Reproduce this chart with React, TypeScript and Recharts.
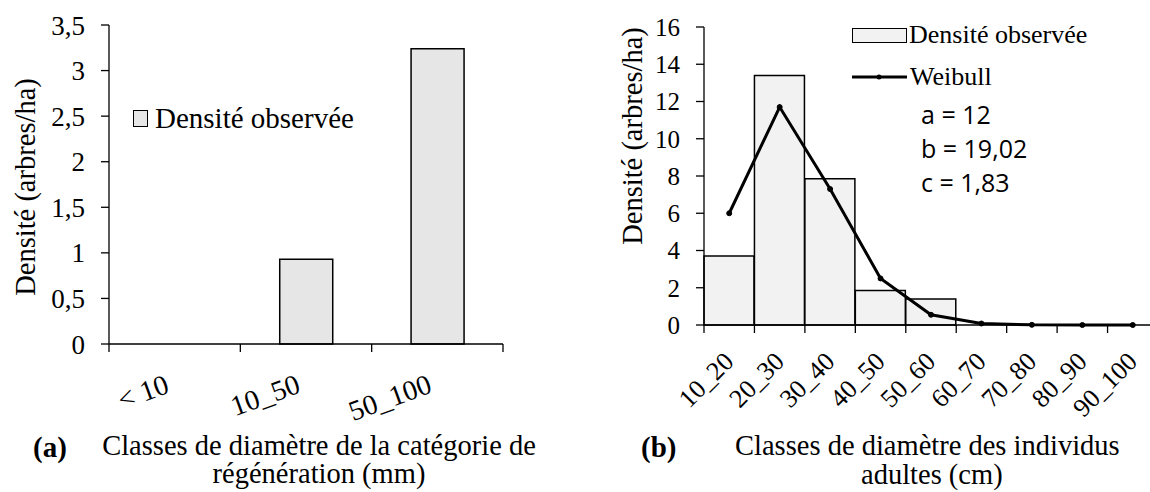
import { BarChart, ComposedChart, Bar, Line, XAxis, YAxis, Legend } from "recharts";

const SERIF = '"Liberation Serif", "Times New Roman", serif';
const SANS = '"Open Sans", "Liberation Sans", sans-serif';
const INK = "#000";

// (a) catégorie de régénération (mm)
const regenClasses = ["< 10", "10_50", "50_100"];
const regenDensity = [0, 0.93, 3.24];
const regenTicks = [0, 0.5, 1, 1.5, 2, 2.5, 3, 3.5];

// (b) individus adultes (cm)
const adultClasses = ["10_20", "20_30", "30_40", "40_50", "50_60", "60_70", "70_80", "80_90", "90_100"];
const adultDensity = [3.7, 13.4, 7.85, 1.85, 1.4, 0, 0, 0, 0];
const weibullFit = [6.0, 11.7, 7.3, 2.5, 0.55, 0.08, 0.01, 0, 0];
const adultTicks = [0, 2, 4, 6, 8, 10, 12, 14, 16];
const weibullParams = ["a = 12", "b = 19,02", "c = 1,83"];

const regenData = regenClasses.map((cls, i) => ({ cls, density: regenDensity[i] }));
const adultData = adultClasses.map((cls, i) => ({ cls, density: adultDensity[i], weibull: weibullFit[i] }));

const comma = (v: number) => String(v).replace(".", ",");

// category labels rotated, with tick marks on the class boundaries
function classTick(bandW: number, count: number, angle: number, dx: number, dy: number, fontSize: number) {
  return (props: any) => {
    const { x, y, payload, index } = props;
    const half = bandW / 2;
    return (
      <g>
        <line x1={x - half} x2={x - half} y1={y} y2={y + 8} stroke={INK} strokeWidth={1.3} />
        {index === count - 1 && (
          <line x1={x + half} x2={x + half} y1={y} y2={y + 8} stroke={INK} strokeWidth={1.3} />
        )}
        <text
          transform={`translate(${x + dx},${y + dy}) rotate(${angle})`}
          textAnchor="end"
          fontFamily={SERIF}
          fontSize={fontSize}
          fill={INK}
        >
          {payload.value}
        </text>
      </g>
    );
  };
}

function RegenLegend() {
  return (
    <div style={{ display: "flex", alignItems: "center", fontFamily: SERIF, fontSize: 29, lineHeight: "30px" }}>
      <span style={{ width: 15, height: 17, background: "#e6e6e6", border: "1.5px solid #000", boxSizing: "border-box" }} />
      <span style={{ marginLeft: 7 }}>Densité observée</span>
    </div>
  );
}

function AdultLegend() {
  return (
    <div style={{ fontFamily: SERIF, fontSize: 26, lineHeight: "30px" }}>
      <div style={{ display: "flex", alignItems: "center" }}>
        <span style={{ width: 55, height: 15, background: "#f2f2f2", border: "1.5px solid #000", boxSizing: "border-box" }} />
        <span style={{ marginLeft: 2 }}>Densité observée</span>
      </div>
      <div style={{ display: "flex", alignItems: "center", marginTop: 12 }}>
        <svg width={55} height={10}>
          <line x1={0} x2={55} y1={5} y2={5} stroke={INK} strokeWidth={3} />
          <circle cx={27} cy={5} r={2.5} fill={INK} />
        </svg>
        <span style={{ marginLeft: 3 }}>Weibull</span>
      </div>
    </div>
  );
}

const abs = (style: any) => ({ position: "absolute" as const, ...style });

export default function App() {
  return (
    <div style={abs({ top: 0, left: 0, width: 1150, height: 492, overflow: "hidden", background: "#fff", fontFamily: SERIF, color: INK })}>
      {/* (a) */}
      <div style={abs({ top: 0, left: 0 })}>
        <BarChart width={520} height={440} data={regenData} margin={{ top: 25, right: 17, left: 49, bottom: 36 }} barCategoryGap="30%">
          <XAxis
            dataKey="cls"
            interval={0}
            height={60}
            tickSize={0}
            tickMargin={0}
            tickLine={false}
            axisLine={{ stroke: INK, strokeWidth: 1.3 }}
            tick={classTick(394 / 3, 3, -20, -4, 48, 28.5)}
          />
          <YAxis
            width={60}
            domain={[0, 3.5]}
            ticks={regenTicks}
            tickFormatter={comma}
            tickSize={8}
            tickMargin={16}
            axisLine={{ stroke: INK, strokeWidth: 1.3 }}
            tickLine={{ stroke: INK, strokeWidth: 1.3 }}
            tick={{ fill: INK, fontSize: 27, fontFamily: SERIF }}
          />
          <Legend
            layout="horizontal"
            align="center"
            verticalAlign="middle"
            content={() => <RegenLegend />}
            wrapperStyle={{ top: 103, left: 133, width: "auto" }}
          />
          <Bar dataKey="density" fill="#e6e6e6" stroke={INK} strokeWidth={1.5} isAnimationActive={false} />
        </BarChart>
      </div>

      {/* (b) */}
      <div style={abs({ top: 0, left: 560 })}>
        <ComposedChart width={608} height={440} data={adultData} margin={{ top: 27, right: 10, left: 84, bottom: 35 }} barCategoryGap={0} barGap={0}>
          <XAxis
            dataKey="cls"
            interval={0}
            height={80}
            tickSize={0}
            tickMargin={0}
            tickLine={false}
            axisLine={{ stroke: INK, strokeWidth: 1.3 }}
            tick={classTick(454 / 9, 9, -45, 6, 38, 26)}
          />
          <YAxis
            width={60}
            domain={[0, 16]}
            ticks={adultTicks}
            tickSize={8}
            tickMargin={16}
            axisLine={{ stroke: INK, strokeWidth: 1.3 }}
            tickLine={{ stroke: INK, strokeWidth: 1.3 }}
            tick={{ fill: INK, fontSize: 25, fontFamily: SERIF }}
          />
          <Legend
            layout="horizontal"
            align="center"
            verticalAlign="middle"
            content={() => <AdultLegend />}
            wrapperStyle={{ top: 20, left: 292, width: "auto" }}
          />
          <Bar dataKey="density" fill="#f2f2f2" stroke={INK} strokeWidth={1.5} isAnimationActive={false} />
          <Line
            type="linear"
            dataKey="weibull"
            stroke={INK}
            strokeWidth={3}
            dot={{ r: 2.5, fill: INK, stroke: INK, strokeWidth: 1 }}
            activeDot={false}
            isAnimationActive={false}
          />
        </ComposedChart>
      </div>

      {/* axis titles */}
      <div style={abs({ left: 26, top: 187, transform: "translate(-50%,-50%) rotate(-90deg)", whiteSpace: "nowrap", fontSize: 28.5 })}>
        Densité (arbres/ha)
      </div>
      <div style={abs({ left: 633, top: 136, transform: "translate(-50%,-50%) rotate(-90deg)", whiteSpace: "nowrap", fontSize: 28.5 })}>
        Densité (arbres/ha)
      </div>

      {/* Weibull parameters */}
      <div style={abs({ left: 921, top: 97, fontFamily: SANS, fontSize: 25, lineHeight: "34px" })}>
        {weibullParams.map((p) => (
          <div key={p}>{p}</div>
        ))}
      </div>

      {/* captions */}
      <div style={abs({ left: 33, top: 433, fontSize: 29, fontWeight: "bold", lineHeight: "28px" })}>(a)</div>
      <div style={abs({ left: 100, top: 432, width: 438, textAlign: "center", fontSize: 28.5, lineHeight: "28px", whiteSpace: "nowrap" })}>
        Classes de diamètre de la catégorie de
        <br />
        régénération (mm)
      </div>
      <div style={abs({ left: 641, top: 433, fontSize: 29, fontWeight: "bold", lineHeight: "28px" })}>(b)</div>
      <div style={abs({ left: 735, top: 432, fontSize: 28.5, lineHeight: "28px", whiteSpace: "nowrap" })}>
        Classes de diamètre des individus
      </div>
      <div style={abs({ left: 861, top: 461, fontSize: 28.5, lineHeight: "28px", whiteSpace: "nowrap" })}>adultes (cm)</div>
    </div>
  );
}
